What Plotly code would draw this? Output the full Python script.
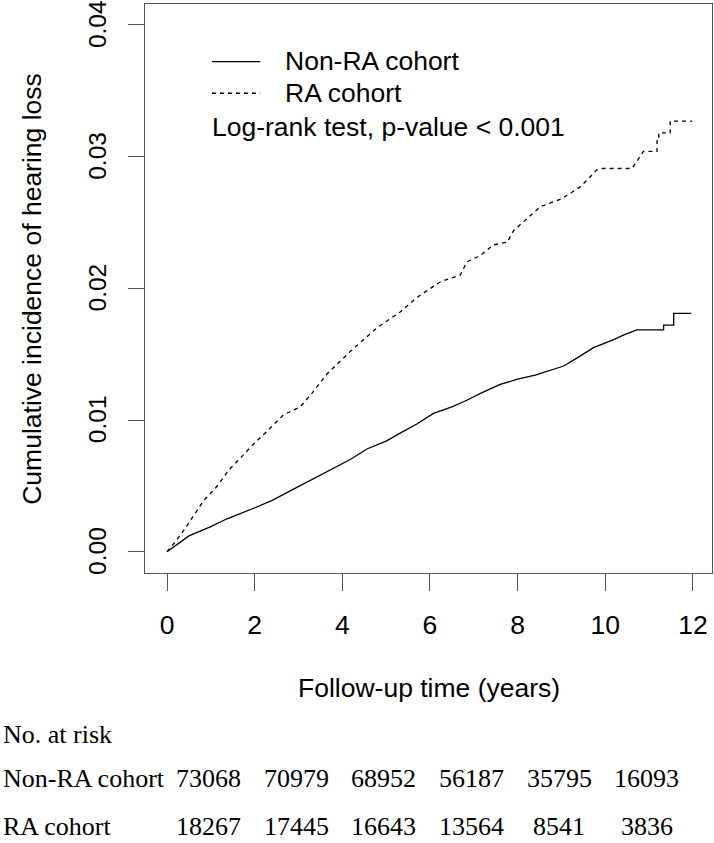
import plotly.graph_objects as go

# ---- data (curve vertices) ----
nonra_t = [0, 0.5, 1.0, 1.37, 1.98, 2.4, 2.8, 3.2, 3.6, 4.18, 4.56, 5.0, 5.32, 5.7, 6.08,
           6.5, 6.84, 7.2, 7.6, 8.0, 8.4, 8.75, 9.05, 9.35, 9.73, 10.19, 10.45, 10.72,
           11.33, 11.33, 11.56, 11.56, 11.96]
nonra_y = [0, 0.0012, 0.0019, 0.0025, 0.0033, 0.0039, 0.0046, 0.0053, 0.0060, 0.0070,
           0.0078, 0.0084, 0.0090, 0.0097, 0.0105, 0.0110, 0.0115, 0.0121, 0.0127, 0.0131,
           0.0134, 0.0138, 0.0141, 0.0147, 0.0155, 0.0161, 0.0165, 0.01685, 0.01685,
           0.0172, 0.0172, 0.0181, 0.0181]

ra_t = [0, 0.2, 0.4, 0.6, 0.84, 1.1, 1.41, 1.7, 1.98, 2.3, 2.66, 3.04, 3.3, 3.65, 4.18,
        4.79, 5.32, 5.7, 6.24, 6.69, 6.84, 7.15, 7.45, 7.76, 7.91, 8.52, 9.0, 9.43, 9.81,
        9.89, 10.61, 10.75, 10.87, 11.18, 11.18, 11.22, 11.22, 11.48, 11.48, 11.98]
ra_y = [0, 0.0008, 0.0017, 0.0027, 0.0039, 0.0048, 0.0062, 0.0072, 0.0082, 0.0092, 0.0104,
        0.0110, 0.0120, 0.0135, 0.0152, 0.0170, 0.0182, 0.0193, 0.0205, 0.0210, 0.0220,
        0.0225, 0.0233, 0.0235, 0.0244, 0.0262, 0.0268, 0.0277, 0.0290, 0.0291, 0.0291,
        0.0298, 0.0304, 0.0304, 0.0312, 0.0312, 0.0318, 0.0318, 0.0327, 0.0327]

x_ticks = [0, 2, 4, 6, 8, 10, 12]
y_ticks = [0.00, 0.01, 0.02, 0.03, 0.04]
y_ticklabels = ["0.00", "0.01", "0.02", "0.03", "0.04"]

risk_times = [1, 3, 5, 7, 9, 11]
risk_nonra = ["73068", "70979", "68952", "56187", "35795", "16093"]
risk_ra = ["18267", "17445", "16643", "13564", "8541", "3836"]

series_names = ["Non-RA cohort", "RA cohort"]
test_text = "Log-rank test, p-value < 0.001"

# ---- layout geometry (pixels) ----
W, H = 714, 843
L, R, T, B = 144.7, 711.7, 4.0, 573.3
PW, PH = R - L, B - T


def px(X):
    return (X - L) / PW


def py(Y):
    return (B - Y) / PH


SANS = "Liberation Sans, Arial, sans-serif"
SERIF = "Liberation Serif, Times New Roman, serif"
AX = "#555555"
FS = 26.5

fig = go.Figure()
fig.add_trace(go.Scatter(x=nonra_t, y=nonra_y, mode="lines",
                         line=dict(color="black", width=1.3), name=series_names[0],
                         showlegend=False))
fig.add_trace(go.Scatter(x=ra_t, y=ra_y, mode="lines",
                         line=dict(color="black", width=1.3, dash="4px,4px"),
                         name=series_names[1], showlegend=False))

fig.update_layout(
    width=W, height=H,
    margin=dict(l=L, r=W - R, t=T, b=H - B, autoexpand=False),
    paper_bgcolor="white", plot_bgcolor="white",
    font=dict(family=SANS, size=FS, color="black"),
    xaxis=dict(range=[-0.502, 12.434], tickmode="array", tickvals=x_ticks,
               ticks="outside", ticklen=17, tickwidth=1.3, tickcolor=AX,
               showline=True, linecolor=AX, linewidth=1.3, mirror=True,
               showgrid=False, zeroline=False, ticklabelstandoff=11,
               ticklabeloverflow="allow",
               tickfont=dict(family=SANS, size=FS, color="black")),
    yaxis=dict(range=[-0.001617, 0.04159], tickmode="array", tickvals=y_ticks,
               ticktext=y_ticklabels, tickangle=-90,
               ticks="outside", ticklen=16, tickwidth=1.3, tickcolor=AX,
               showline=True, linecolor=AX, linewidth=1.3, mirror=True,
               showgrid=False, zeroline=False, ticklabelstandoff=12,
               ticklabelshift=3, ticklabeloverflow="allow",
               tickfont=dict(family=SANS, size=24.5, color="black")),
)

# legend samples
shapes = [
    dict(type="line", xref="paper", yref="paper", x0=px(211.7), x1=px(260),
         y0=py(61.7), y1=py(61.7), line=dict(color="black", width=1.3)),
    dict(type="line", xref="paper", yref="paper", x0=px(211.7), x1=px(260),
         y0=py(93.3), y1=py(93.3), line=dict(color="black", width=1.3, dash="4px,4px")),
]
fig.update_layout(shapes=shapes)

ann = []
ann.append(dict(text=series_names[0], xref="paper", yref="paper", x=px(283), y=py(61),
                xanchor="left", yanchor="middle", showarrow=False,
                font=dict(family=SANS, size=FS)))
ann.append(dict(text=series_names[1], xref="paper", yref="paper", x=px(283), y=py(93),
                xanchor="left", yanchor="middle", showarrow=False,
                font=dict(family=SANS, size=FS)))
ann.append(dict(text=test_text, xref="paper", yref="paper", x=px(210), y=py(127),
                xanchor="left", yanchor="middle", showarrow=False,
                font=dict(family=SANS, size=FS)))

# axis titles
ann.append(dict(text="Follow-up time (years)", xref="paper", yref="paper", x=0.5, y=py(688),
                xanchor="center", yanchor="middle", showarrow=False,
                font=dict(family=SANS, size=FS)))
ann.append(dict(text="Cumulative incidence of hearing loss", xref="paper", yref="paper",
                x=px(31), y=0.5, xanchor="center", yanchor="middle", textangle=-90,
                showarrow=False, font=dict(family=SANS, size=FS)))

# number at risk table
ann.append(dict(text="No. at risk", xref="paper", yref="paper", x=px(1), y=py(735),
                xanchor="left", yanchor="middle", showarrow=False,
                font=dict(family=SERIF, size=26)))
ann.append(dict(text=series_names[0], xref="paper", yref="paper", x=px(1), y=py(779),
                xanchor="left", yanchor="middle", showarrow=False,
                font=dict(family=SERIF, size=26)))
ann.append(dict(text=series_names[1], xref="paper", yref="paper", x=px(1), y=py(827),
                xanchor="left", yanchor="middle", showarrow=False,
                font=dict(family=SERIF, size=26)))
for t, a, b in zip(risk_times, risk_nonra, risk_ra):
    ann.append(dict(text=a, xref="x", yref="paper", x=t - 0.05, y=py(779),
                    xanchor="center", yanchor="middle", showarrow=False,
                    font=dict(family=SERIF, size=26)))
    ann.append(dict(text=b, xref="x", yref="paper", x=t - 0.05, y=py(827),
                    xanchor="center", yanchor="middle", showarrow=False,
                    font=dict(family=SERIF, size=26)))

fig.update_layout(annotations=ann)
fig.write_html("out.html", config={"displayModeBar": False},
               post_script="document.body.style.margin='0';document.body.style.padding='0';")
